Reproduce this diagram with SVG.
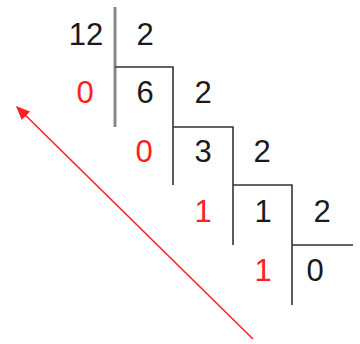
<svg xmlns="http://www.w3.org/2000/svg" width="360" height="344" viewBox="0 0 360 344">
<style>
text{font-family:"Liberation Sans",Arial,sans-serif;font-size:31px;text-anchor:middle;fill:#1a1a1a}
.r{fill:#ff2020}
.ln{stroke:#333;stroke-width:1.6;fill:none}
</style>
<defs>
<marker id="ah" viewBox="0 0 10 10" refX="9" refY="5" markerWidth="14" markerHeight="12" orient="auto" markerUnits="userSpaceOnUse" preserveAspectRatio="none">
<path d="M0,0 L10,5 L0,10 z" fill="#ff2020"/>
</marker>
</defs>
<g id="lines">
<line x1="115" y1="7" x2="115" y2="127" stroke="#888" stroke-width="3"/>
<polyline class="ln" points="115,67 173,67 173,185"/>
<polyline class="ln" points="173,127 233,127 233,245"/>
<polyline class="ln" points="233,185 292,185 292,305"/>
<polyline class="ln" points="292,245 353,245" stroke="#777"/>
</g>
<g id="texts">
<text x="86" y="45">12</text>
<text x="145" y="45">2</text>
<text class="r" x="85" y="103">0</text>
<text x="145" y="103">6</text>
<text x="203" y="103">2</text>
<text class="r" x="144" y="162">0</text>
<text x="203" y="162">3</text>
<text x="262" y="162">2</text>
<text class="r" x="203" y="222">1</text>
<text x="263" y="222">1</text>
<text x="322" y="222">2</text>
<text class="r" x="263" y="281">1</text>
<text x="315" y="281">0</text>
</g>
<g id="connectors">
<line x1="253" y1="339" x2="17" y2="107" stroke="#ff2020" stroke-width="1.6" marker-end="url(#ah)"/>
</g>
</svg>
